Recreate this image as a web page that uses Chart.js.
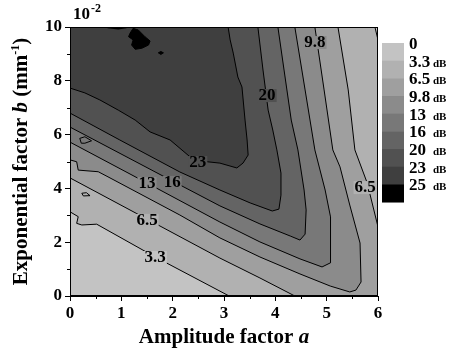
<!DOCTYPE html>
<html>
<head>
<meta charset="utf-8">
<script src="https://cdn.jsdelivr.net/npm/chart.js@4.4.0/dist/chart.umd.min.js"></script>
<style>
html, body { margin: 0; padding: 0; background: #fff; }
#wrap { width: 450px; height: 351px; }
</style>
</head>
<body>
<div id="wrap"><canvas id="contourChart" width="450" height="351"></canvas></div>
<script>
// 色标等级与颜色
const levels = ['0', '3.3', '6.5', '9.8', '13', '16', '20', '23', '25'];
const bandColors = ['#c3c3c3', '#b1b1b1', '#9f9f9f', '#8b8b8b', '#787878', '#646464', '#515151', '#3f3f3f', '#000000'];

// 等值线, 每点为 [a, b(×10^-2 mm^-1)]
const c33 = [[0,3.13],[0.16,2.95],[0.13,2.70],[0.23,2.64],[0.52,2.67],[1.66,1.45],[3.10,0]];
const c33Corner = [[5.94,10],[6,9.52]];
const c65Low = [[0,4.39],[1.50,2.86],[2.92,1.41],[3.70,0.67],[4.38,0]];
const c65High = [[5.22,10],[5.42,7.66],[5.55,5.43],[5.79,4.20],[6,2.57]];
const c98 = [[0,5.06],[0.13,4.99],[0.16,4.68],[0.55,4.62],[0.74,4.43],[2.14,3.01],[2.92,2.16],[3.70,1.45],[4.48,0.82],[5.07,0.37],[5.45,0.15],[5.57,0.22],[5.67,0.52],[5.65,1.97],[5.45,3.38],[5.26,4.80],[5.12,5.43],[4.95,7.66],[4.77,10]];
const c13 = [[0,5.72],[1.50,4.20],[2.92,2.75],[3.70,2.01],[4.48,1.38],[4.91,1.08],[5.07,1.23],[5.08,1.71],[5.07,2.94],[4.97,3.94],[4.77,5.43],[4.58,7.66],[4.38,10]];
const c16 = [[0,6.28],[1.99,4.28],[2.92,3.35],[3.70,2.68],[4.29,2.23],[4.48,2.08],[4.58,2.30],[4.60,3.20],[4.56,3.94],[4.44,5.43],[4.31,6.54],[4.17,8.40],[4.05,10]];
const c20 = [[0,6.80],[0.97,5.80],[2.14,4.61],[2.92,3.94],[3.51,3.46],[3.94,3.16],[4.07,3.23],[4.11,3.75],[4.11,4.57],[4.03,5.43],[3.95,6.17],[3.86,6.91],[3.76,8.40],[3.66,10]];
const c23 = [[0,7.73],[0.29,7.55],[0.58,7.29],[0.94,6.91],[1.27,6.54],[1.56,6.10],[1.95,5.80],[2.34,5.17],[2.53,5.02],[2.92,4.94],[3.25,4.76],[3.37,4.94],[3.47,5.24],[3.45,5.80],[3.41,6.54],[3.35,7.77],[3.27,8.14],[3.18,9.03],[3.12,9.52],[3.08,10]];
// 25 dB 以上的小块
const c25a = [[1.14,9.64],[1.17,9.77],[1.23,9.95],[1.33,9.89],[1.46,9.64],[1.56,9.48],[1.53,9.33],[1.40,9.21],[1.27,9.17],[1.20,9.33],[1.23,9.52]];
const c25b = [[0.71,10.05],[0.73,9.95],[0.94,9.91],[1.10,9.95],[1.14,10.05]];
const c25c = [[1.72,9.04],[1.77,9.09],[1.82,9.04],[1.77,8.98]];
// 小闭合圈
const islandA = [[0.19,5.86],[0.29,5.92],[0.42,5.77],[0.29,5.68],[0.22,5.68],[0.19,5.86]];
const islandB = [[0.23,3.82],[0.32,3.84],[0.39,3.73],[0.26,3.72],[0.23,3.82]];

// 等值线上的数字标注
const contourLabels = ['3.3', '6.5', '13', '16', '23', '20', '9.8', '6.5'];
const labelPos = [[1.66,1.45],[1.50,2.83],[1.50,4.20],[1.99,4.24],[2.49,4.98],[3.84,7.47],[4.77,9.44],[5.75,4.05]];
const labelBand = [0, 1, 3, 4, 6, 6, 3, 1];

const xTicks = [0, 1, 2, 3, 4, 5, 6];
const yTicks = [0, 2, 4, 6, 8, 10];

const FONT = '"Liberation Serif", "Times New Roman", serif';

function toPts(arr) {
    return arr.map(p => ({ x: p[0], y: p[1] }));
}

// 各等级以上区域 (多边形)
const regions = [
    { pts: c33.concat([[6,0]], c33Corner.slice().reverse(), [[0,10]]), color: bandColors[1] },
    { pts: c65Low.concat([[6,0]], c65High.slice().reverse(), [[0,10]]), color: bandColors[2] },
    { pts: c98.concat([[0,10]]), color: bandColors[3] },
    { pts: c13.concat([[0,10]]), color: bandColors[4] },
    { pts: c16.concat([[0,10]]), color: bandColors[5] },
    { pts: c20.concat([[0,10]]), color: bandColors[6] },
    { pts: c23.concat([[0,10]]), color: bandColors[7] },
    { pts: c25a, color: bandColors[8] },
    { pts: c25b, color: bandColors[8] },
    { pts: c25c, color: bandColors[8] }
];
const contourLines = [c33, c33Corner, c65Low, c65High, c98, c13, c16, c20, c23, c25a.concat([c25a[0]]), c25c.concat([c25c[0]]), islandA, islandB];

const datasets = [];
regions.forEach((r, i) => {
    datasets.push({
        data: toPts(r.pts),
        fill: 'shape',
        backgroundColor: r.color,
        borderWidth: 0,
        borderColor: 'rgba(0,0,0,0)',
        pointRadius: 0,
        tension: 0,
        order: 100 - i
    });
});
contourLines.forEach(line => {
    datasets.push({
        data: toPts(line),
        fill: false,
        borderColor: '#000',
        borderWidth: 1,
        pointRadius: 0,
        tension: 0,
        order: 1
    });
});

const decorPlugin = {
    id: 'decor',
    beforeDatasetsDraw(chart) {
        const { ctx, chartArea: a } = chart;
        ctx.save();
        ctx.fillStyle = bandColors[0];
        ctx.fillRect(a.left, a.top, a.right - a.left, a.bottom - a.top);
        ctx.restore();
    },
    afterDatasetsDraw(chart) {
        const { ctx } = chart;
        const xs = chart.scales.x, ys = chart.scales.y;
        ctx.save();
        ctx.font = 'bold 17px ' + FONT;
        ctx.textAlign = 'center';
        ctx.textBaseline = 'middle';
        contourLabels.forEach((t, i) => {
            const px = xs.getPixelForValue(labelPos[i][0]);
            const py = ys.getPixelForValue(labelPos[i][1]);
            const w = ctx.measureText(t).width;
            ctx.fillStyle = bandColors[labelBand[i]];
            ctx.fillRect(px - w / 2 - 1, py - 6, w + 2, 13);
            ctx.fillStyle = '#000';
            ctx.fillText(t, px, py + 1);
        });
        ctx.restore();
    },
    afterDraw(chart) {
        const { ctx, chartArea: a } = chart;
        const xs = chart.scales.x, ys = chart.scales.y;
        ctx.save();
        // 外框
        ctx.strokeStyle = '#000';
        ctx.lineWidth = 1;
        ctx.strokeRect(Math.round(a.left) + 0.5, Math.round(a.top) + 0.5, Math.round(a.right - a.left) - 1, Math.round(a.bottom - a.top) - 1);
        // 次刻度
        ctx.beginPath();
        for (let v = 0.5; v < 6; v += 1) {
            const px = Math.round(xs.getPixelForValue(v)) + 0.5;
            ctx.moveTo(px, a.bottom);
            ctx.lineTo(px, a.bottom + 3);
        }
        for (let v = 1; v < 10; v += 2) {
            const py = Math.round(ys.getPixelForValue(v)) + 0.5;
            ctx.moveTo(a.left, py);
            ctx.lineTo(a.left - 3, py);
        }
        ctx.stroke();

        ctx.fillStyle = '#000';
        ctx.textBaseline = 'alphabetic';
        // 10^-2
        ctx.textAlign = 'left';
        ctx.font = 'bold 17px ' + FONT;
        ctx.fillText('10', 73, 19);
        const w10 = ctx.measureText('10').width;
        ctx.font = 'bold 12px ' + FONT;
        ctx.fillText('-2', 73 + w10 + 1, 12);

        // x 轴标题
        const xParts = [['Amplitude factor ', 'bold 21px '], ['a', 'italic bold 21px ']];
        drawParts(ctx, xParts, (a.left + a.right) / 2, 343);

        // y 轴标题
        ctx.save();
        ctx.translate(27, (a.top + a.bottom) / 2);
        ctx.rotate(-Math.PI / 2);
        const yParts = [['Exponential factor ', 'bold 21px '], ['b', 'italic bold 21px '], [' (mm', 'bold 21px '], ['-1', 'bold 12px ', -8], [')', 'bold 21px ']];
        drawParts(ctx, yParts, 0, 0);
        ctx.restore();

        // 色标
        const barX = 382, barW = 22, barTop = 43, bandH = 17.67;
        bandColors.forEach((c, i) => {
            ctx.fillStyle = c;
            ctx.fillRect(barX, barTop + i * bandH, barW, bandH + 0.5);
        });
        ctx.fillStyle = '#000';
        levels.forEach((t, i) => {
            const y = barTop + i * bandH + 6;
            ctx.font = 'bold 17px ' + FONT;
            ctx.fillText(t, 409, y);
            if (i > 0) {
                ctx.font = 'bold 11px ' + FONT;
                ctx.fillText('dB', 433, y);
            }
        });
        ctx.restore();
    }
};

function drawParts(ctx, parts, cx, baseY) {
    let total = 0;
    parts.forEach(p => {
        ctx.font = p[1] + FONT;
        total += ctx.measureText(p[0]).width;
    });
    let x = cx - total / 2;
    ctx.textAlign = 'left';
    parts.forEach(p => {
        ctx.font = p[1] + FONT;
        ctx.fillText(p[0], x, baseY + (p[2] || 0));
        x += ctx.measureText(p[0]).width;
    });
}

const chart = new Chart(document.getElementById('contourChart'), {
    type: 'line',
    data: { datasets: datasets },
    options: {
        responsive: false,
        animation: false,
        events: [],
        layout: { padding: { top: 27, right: 72, left: 0, bottom: 0 } },
        plugins: {
            legend: { display: false },
            tooltip: { enabled: false },
            title: { display: false }
        },
        scales: {
            x: {
                type: 'linear',
                min: 0,
                max: 6,
                afterFit: s => { s.height = 55; },
                afterBuildTicks: s => { s.ticks = xTicks.map(v => ({ value: v })); },
                ticks: { font: { family: FONT, size: 17, weight: 'bold' }, color: '#000', padding: 2, maxRotation: 0 },
                grid: { drawOnChartArea: false, drawTicks: true, tickLength: 5, color: '#000', tickColor: '#000' },
                border: { display: true, color: '#000', width: 1 }
            },
            y: {
                type: 'linear',
                min: 0,
                max: 10,
                afterFit: s => { s.width = 70; },
                afterBuildTicks: s => { s.ticks = yTicks.map(v => ({ value: v })); },
                ticks: { font: { family: FONT, size: 17, weight: 'bold' }, color: '#000', padding: 3 },
                grid: { drawOnChartArea: false, drawTicks: true, tickLength: 5, color: '#000', tickColor: '#000' },
                border: { display: true, color: '#000', width: 1 }
            }
        }
    },
    plugins: [decorPlugin]
});
</script>
</body>
</html>
